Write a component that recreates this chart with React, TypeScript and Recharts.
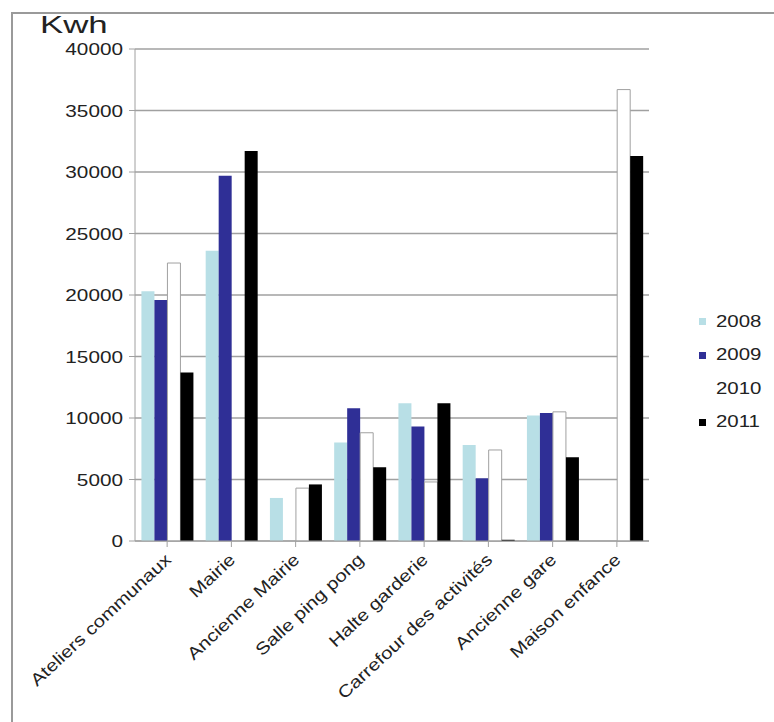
import React from 'react';
import { BarChart, Bar, XAxis, YAxis, CartesianGrid } from 'recharts';

const sites = [
  'Ateliers communaux',
  'Mairie',
  'Ancienne Mairie',
  'Salle ping pong',
  'Halte garderie',
  'Carrefour des activités',
  'Ancienne gare',
  'Maison enfance',
];

const kwh2008 = [20300, 23600, 3500, 8000, 11200, 7800, 10200, 0];
const kwh2009 = [19600, 29700, 0, 10800, 9300, 5100, 10400, 0];
const kwh2010 = [22600, 0, 4300, 8800, 4800, 7400, 10500, 36700];
const kwh2011 = [13700, 31700, 4600, 6000, 11200, 100, 6800, 31300];

const yTicks = [0, 5000, 10000, 15000, 20000, 25000, 30000, 35000, 40000];

const years = [
  { key: 'y2008', label: '2008', color: '#b8dfe6' },
  { key: 'y2009', label: '2009', color: '#2f2f96' },
  { key: 'y2010', label: '2010', color: '#ffffff' },
  { key: 'y2011', label: '2011', color: '#000000' },
];

const data = sites.map((name, i) => ({
  name,
  y2008: kwh2008[i],
  y2009: kwh2009[i],
  y2010: kwh2010[i],
  y2011: kwh2011[i],
}));

const font = '"Liberation Sans", Arial, sans-serif';

// the source picture is a bit stretched sideways, so text gets a scaleX
const SiteTick = ({ x, y, payload }: any) => (
  <g transform={`translate(${x + 5},${y + 12})`}>
    <text
      textAnchor="end"
      transform="rotate(-43) scale(1.2,1)"
      fontSize={17}
      fill="#222"
      fontFamily={font}
    >
      {payload.value}
    </text>
  </g>
);

const KwhTick = ({ x, y, payload }: any) => (
  <g transform={`translate(${x - 4},${y + 6})`}>
    <text textAnchor="end" transform="scale(1.22,1)" fontSize={17} fill="#222" fontFamily={font}>
      {payload.value}
    </text>
  </g>
);

const LegendBox = () => (
  <div style={{ position: 'absolute', left: 699, top: 305, fontFamily: font, fontSize: 17, color: '#222' }}>
    {years.map((it) => (
      <div key={it.label} style={{ display: 'flex', alignItems: 'center', height: 33.5 }}>
        <span style={{ width: 7, height: 7, background: it.color, marginRight: 10, display: 'inline-block' }} />
        <span style={{ display: 'inline-block', transform: 'scaleX(1.2)', transformOrigin: 'left center' }}>
          {it.label}
        </span>
      </div>
    ))}
  </div>
);

export default function App() {
  return (
    <div style={{ position: 'absolute', left: 0, top: 0, width: 774, height: 722, background: '#fff', overflow: 'hidden' }}>
      <div
        style={{
          position: 'absolute',
          left: 11,
          top: 12,
          width: 763,
          height: 710,
          borderTop: '2px solid #9a9a9a',
          borderLeft: '2px solid #9a9a9a',
        }}
      />
      <div
        style={{
          position: 'absolute',
          left: 40,
          top: 11,
          fontFamily: font,
          fontSize: 24,
          color: '#222',
          transform: 'scaleX(1.45)',
          transformOrigin: 'left top',
        }}
      >
        Kwh
      </div>
      <BarChart
        width={774}
        height={722}
        data={data}
        margin={{ top: 49, right: 125, left: 75, bottom: 31 }}
        barCategoryGap="10%"
        barGap={0}
      >
        <CartesianGrid vertical={false} stroke="#a0a0a0" strokeWidth={1.6} />
        <XAxis
          dataKey="name"
          interval={0}
          height={150}
          tick={<SiteTick />}
          axisLine={{ stroke: '#a0a0a0' }}
          tickLine={{ stroke: '#a0a0a0' }}
        />
        <YAxis
          width={60}
          domain={[0, 40000]}
          ticks={yTicks}
          interval={0}
          tick={<KwhTick />}
          axisLine={{ stroke: '#a0a0a0' }}
          tickLine={{ stroke: '#a0a0a0' }}
        />
        {years.map((yr) => (
          <Bar
            key={yr.key}
            dataKey={yr.key}
            name={yr.label}
            fill={yr.color}
            stroke={yr.key === 'y2010' ? '#a0a0a0' : undefined}
            strokeWidth={yr.key === 'y2010' ? 1 : 0}
            isAnimationActive={false}
          />
        ))}
      </BarChart>
      <LegendBox />
    </div>
  );
}
